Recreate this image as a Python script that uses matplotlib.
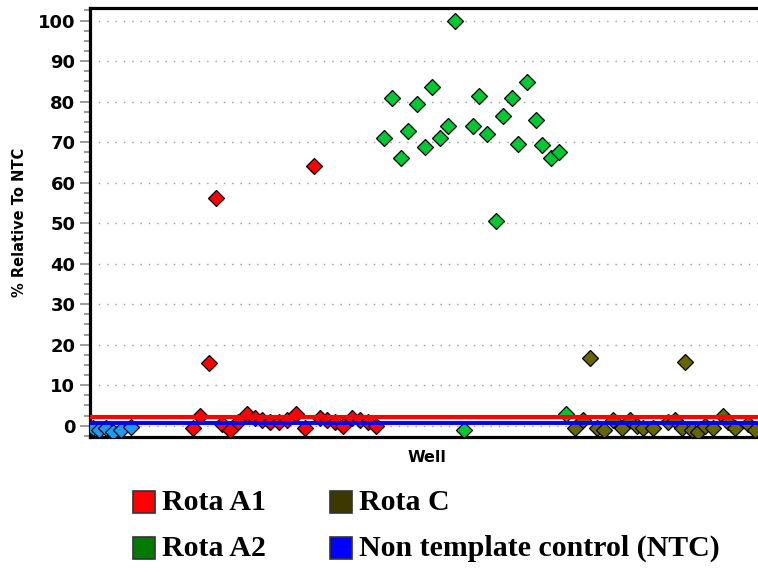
import matplotlib
matplotlib.use("Agg")
import matplotlib.pyplot as plt
from matplotlib.patches import Rectangle
from matplotlib.ticker import MultipleLocator

# ---- data (well position, % relative to NTC) ----
ntc_well = [0.5, 1.2, 2.1, 3.0, 4.0, 5.2]
ntc_val = [-0.5, -1.0, -0.5, -1.5, -1.0, -0.3]

a1_well = [13.0, 13.9, 15.0, 15.9, 16.6, 17.6, 18.6, 19.75, 20.75, 21.6, 22.6, 23.75,
           24.75, 25.9, 27.0, 28.1, 28.9, 29.75, 30.75, 31.75, 32.9, 33.9, 34.9, 35.9]
a1_val = [-0.5, 2.5, 15.5, 56.3, 0.5, -1.0, 1.0, 3.0, 2.0, 1.5, 1.0, 1.0,
          1.5, 3.0, -0.5, 64.0, 2.0, 1.5, 1.0, 0.0, 2.0, 1.5, 1.0, 0.0]

a2_well = [36.9, 37.9, 39.0, 39.9, 41.0, 42.0, 42.9, 43.9, 44.9, 45.75, 46.9, 48.0,
           48.75, 49.75, 50.9, 51.75, 52.9, 53.6, 54.75, 55.9, 56.6, 57.75, 58.75, 59.6]
a2_val = [71.0, 80.8, 66.0, 72.7, 79.3, 68.7, 83.5, 70.9, 74.0, 99.8, -1.0, 74.0,
          81.5, 72.0, 50.6, 76.4, 81.0, 69.5, 84.8, 75.4, 69.2, 66.0, 67.5, 3.0]

c_well = [60.75, 61.75, 62.6, 63.5, 64.4, 65.5, 66.6, 67.6, 68.5, 69.25, 70.5, 72.4,
          73.25, 74.1, 74.5, 75.4, 76.1, 77.0, 78.0, 79.25, 79.9, 80.75, 82.4, 83.25]
c_val = [-0.5, 1.5, 16.7, -0.5, -1.0, 1.5, -0.5, 1.5, 0.0, -0.5, -0.5, 1.0,
         1.5, -0.5, 15.7, -1.0, -1.5, 0.0, -0.5, 2.5, 1.0, -0.5, 0.5, -1.0]

threshold_a1 = 2.1
threshold_ntc = 0.65

legend_labels = ["Rota A1", "Rota C", "Rota A2", "Non template control (NTC)"]
legend_colors = ["#FF0000", "#3C3800", "#007A00", "#0000FF"]

# ---- figure ----
fig = plt.figure(figsize=(7.58, 5.72), dpi=100)
ax = fig.add_axes([90 / 758, 1 - 437 / 572, (758 - 90) / 758, (437 - 8) / 572])

mk = dict(marker="D", markersize=7.8, markeredgecolor="black", markeredgewidth=0.9,
          linestyle="none", zorder=3)
ax.plot(a1_well, a1_val, color="#FF0000", **mk)
ax.plot(a2_well, a2_val, color="#00C832", **mk)
ax.plot(c_well, c_val, color="#666600", **mk)
ax.plot(ntc_well, ntc_val, color="#1E9BF0", **mk)

ax.axhline(threshold_a1, color="#FF0000", lw=3.0, zorder=4)
ax.axhline(threshold_ntc, color="#0000FF", lw=2.8, zorder=4)

ax.set_xlim(0.125, 83.625)
ax.set_ylim(-2.8, 103.1)
ax.yaxis.set_major_locator(MultipleLocator(10))
ax.yaxis.set_minor_locator(MultipleLocator(2.5))
ax.set_xticks([])
ax.yaxis.grid(True, which="major", color="#9a9a9a", linestyle=(0, (1, 5)), lw=1.0)
ax.set_axisbelow(True)

for s in ["left", "top", "bottom"]:
    ax.spines[s].set_linewidth(2.3)
    ax.spines[s].set_color("black")
ax.spines["right"].set_visible(False)

ax.tick_params(axis="y", which="major", length=7.5, width=1.1, color="#808080",
               pad=3.0, labelsize=13)
ax.tick_params(axis="y", which="minor", length=4.5, width=1.1, color="#808080")
for lab in ax.get_yticklabels():
    lab.set_fontweight("bold")

ax.set_ylabel("% Relative To NTC", fontsize=10.5, fontweight="bold")
ax.yaxis.set_label_coords((27 - 90) / 668, 0.5)
fig.text(427 / 758, 1 - 458 / 572, "Well", ha="center", va="center",
         fontsize=11.5, fontweight="bold")

# ---- legend ----
sq = 22
pos = [(133, 502), (330, 502), (133, 548), (330, 548)]
for (px, py), lab, col in zip(pos, legend_labels, legend_colors):
    fig.patches.append(Rectangle((px / 758, 1 - (py + sq / 2) / 572), sq / 758, sq / 572,
                                 transform=fig.transFigure, facecolor=col,
                                 edgecolor="#333333", lw=1.2))
    fig.text((px + sq + 7) / 758, 1 - py / 572, lab, ha="left", va="center",
             fontsize=21.5, fontweight="bold", family=["Liberation Serif", "DejaVu Serif"])

fig.savefig("out.png", dpi=100)
